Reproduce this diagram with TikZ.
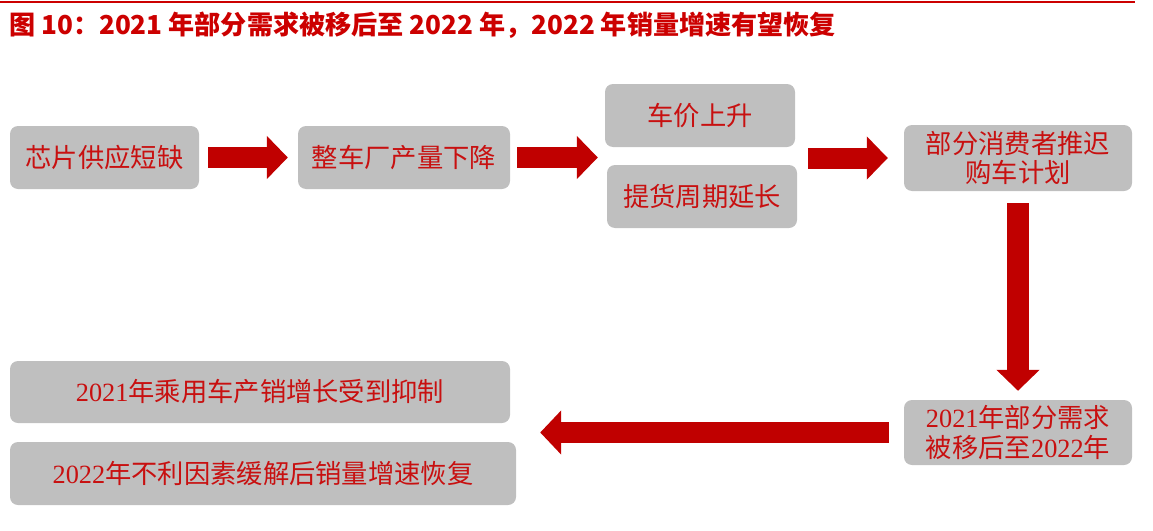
\documentclass[tikz,border=0pt]{standalone}
\usepackage{fontspec}
\setmainfont{Noto Sans CJK SC}
\newfontfamily\lser{Liberation Serif}
\usetikzlibrary{arrows.meta,calc}
\definecolor{arrowred}{RGB}{192,0,0}
\definecolor{titlered}{RGB}{204,0,0}
\definecolor{textred}{RGB}{200,16,16}
\definecolor{boxgray}{RGB}{191,191,191}
\tikzset{
  box/.style={fill=boxgray, rounded corners=8pt, inner sep=0pt, align=center,
    text=textred, font=\fontsize{26.3}{29.5}\selectfont},
  blockarrow/.style={draw=arrowred, line width=21pt,
    -{Triangle[length=21pt,width=42pt]}},
}
\begin{document}
\begin{tikzpicture}[x=1pt,y=-1pt]
\useasboundingbox (0,0) rectangle (1153,530);
% top rule and title
\draw[line width=2pt, titlered] (0,1.5) -- (1135,1.5);
\node[anchor=west, inner sep=0pt, text=titlered, font=\fontsize{26.1}{30}\selectfont\bfseries] (title) at (9,25)
  {图 10：2021 年部分需求被移后至 2022 年，2022 年销量增速有望恢复};
% boxes
\node[box, minimum width=189pt, minimum height=63pt] (b1) at (104.5,157.5) {芯片供应短缺};
\node[box, minimum width=212pt, minimum height=63pt] (b2) at (404,157.5) {整车厂产量下降};
\node[box, minimum width=190pt, minimum height=63pt] (b3) at (700,115.5) {车价上升};
\node[box, minimum width=190pt, minimum height=63pt] (b4) at (702,196.5) {提货周期延长};
\node[box, minimum width=228pt, minimum height=66pt] (b5) at (1018,158) {部分消费者推迟\\购车计划};
\node[box, minimum width=228pt, minimum height=65pt] (b6) at (1018,432.5) {{\lser 2021}年部分需求\\被移后至{\lser 2022}年};
\node[box, minimum width=500pt, minimum height=62pt] (b7) at (260,392) {{\lser 2021}年乘用车产销增长受到抑制};
\node[box, minimum width=506pt, minimum height=63pt] (b8) at (263,473.5) {{\lser 2022}年不利因素缓解后销量增速恢复};
% helper coordinates
\coordinate (m34w) at ($(b3.south west)!0.5!(b4.north west)$);
\coordinate (m34e) at ($(b3.south east)!0.5!(b4.north east)$);
\coordinate (m78) at ($(b7.south east)!0.5!(b8.north east)$);
% arrows
\draw[blockarrow] ($(b1.east)+(9,0)$) -- ($(b2.west)+(-10,0)$);
\draw[blockarrow] ($(b2.east)+(7,0)$) -- ($(m34w |- b2.east)+(-8,0)$);
\draw[blockarrow] ($(m34e |- b5.west)+(12,0)$) -- ($(b5.west)+(-16,0)$);
\draw[blockarrow, line width=22pt] ($(b5.south)+(0,12)$) -- ($(b6.north)+(0,-9)$);
\draw[blockarrow, -{Triangle[length=21pt,width=43pt]}] ($(b6.west)+(-15,0)$) -- ($(m78 |- b6.west)+(27,0)$);
\end{tikzpicture}
\end{document}
